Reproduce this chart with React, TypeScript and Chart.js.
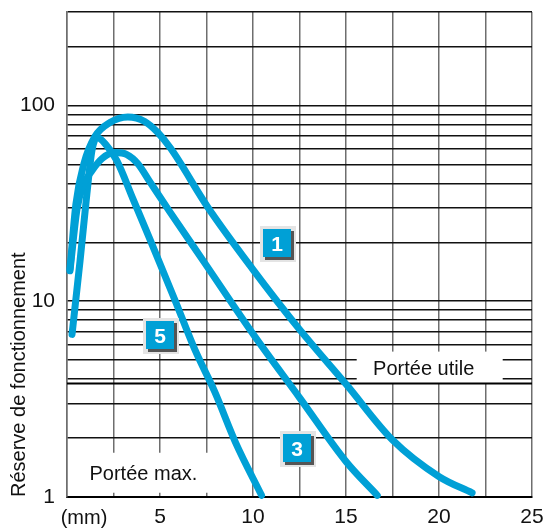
import React, { useEffect, useRef } from 'react';
import { Chart, registerables } from 'chart.js';

Chart.register(...registerables);

const xTickValues = [0, 2.5, 5, 7.5, 10, 12.5, 15, 17.5, 20, 22.5, 25];
const xTickLabels = ['', '', '5', '', '10', '', '15', '', '20', '', '25'];
const yTickValues = [1, 2, 3, 4, 5, 6, 7, 8, 9, 10, 20, 30, 40, 50, 60, 70, 80, 90, 100, 200, 300];
const yLabelledTicks = [1, 10, 100];
const xUnitLabel = '(mm)';
const yTitle = 'Réserve de fonctionnement';

const curve1X = [0.16, 0.48, 0.91, 1.5, 2.31, 3.27, 4.18, 4.88, 5.58, 7.56, 9.98, 12.5, 15.02, 17.49, 20.01, 21.78];
const curve1Y = [14.6, 31.4, 50.4, 69.3, 81.8, 87.3, 82.8, 72.7, 60.2, 30.3, 14.6, 7.18, 3.75, 1.96, 1.27, 1.05];

const curve3X = [0.16, 0.54, 0.91, 1.34, 1.88, 2.58, 3.22, 3.81, 4.45, 5.53, 7.4, 10.09, 12.5, 15.02, 16.68];
const curve3Y = [14.3, 29.6, 39.8, 46.4, 53.5, 57.4, 56.1, 50.4, 40.8, 28.6, 15.7, 6.62, 3.22, 1.51, 1.02];

const curve5X = [0.27, 0.7, 1.07, 1.34, 1.61, 2.09, 2.68, 3.54, 4.45, 5.79, 6.87, 7.94, 9.07, 10.46];
const curve5Y = [6.77, 16.0, 35.4, 58.8, 68.5, 63.1, 52.2, 33.4, 20.8, 10.2, 5.67, 3.45, 1.89, 1.02];

const utileLevel = 3.8;
const utileX = [0, 25];

const noteTexts = ['Portée utile', 'Portée max.'];
const noteX = [19.5, 4.0];
const noteY = [4.58, 1.33];

const badgeTexts = ['1', '3', '5'];
const badgeX = [11.27, 12.34, 4.99];
const badgeY = [19.8, 1.78, 6.7];

const FAMILY = '"Liberation Sans", Arial, sans-serif';
const BLUE = '#00a0d6';

const toPoints = (xs: number[], ys: number[]) => xs.map((x, i) => ({ x, y: ys[i] }));

const notesPlugin = {
  id: 'notes',
  beforeDatasetsDraw(chart: any) {
    const { ctx } = chart;
    const xs = chart.scales.x;
    const ys = chart.scales.y;
    const sizes = [[146, 32], [145, 40]];
    const textShift = [-6, 2];
    ctx.save();
    noteTexts.forEach((t, i) => {
      const cx = xs.getPixelForValue(noteX[i]);
      const cy = ys.getPixelForValue(noteY[i]);
      const [w, h] = sizes[i];
      ctx.fillStyle = '#ffffff';
      ctx.fillRect(cx - w / 2, cy - h / 2, w, h);
      ctx.fillStyle = '#111111';
      ctx.font = `20px ${FAMILY}`;
      ctx.textAlign = 'center';
      ctx.textBaseline = 'alphabetic';
      ctx.fillText(t, cx + textShift[i], cy + 7);
    });
    ctx.restore();
  },
  afterDatasetsDraw(chart: any) {
    const { ctx } = chart;
    const xs = chart.scales.x;
    const ys = chart.scales.y;
    ctx.save();
    badgeTexts.forEach((t, i) => {
      const cx = xs.getPixelForValue(badgeX[i]);
      const cy = ys.getPixelForValue(badgeY[i]);
      const w = 28;
      const h = 28;
      const l = Math.round(cx - w / 2);
      const tp = Math.round(cy - h / 2);
      ctx.fillStyle = '#e4e4e4';
      ctx.fillRect(l - 3, tp - 3, w + 8, h + 8);
      ctx.fillStyle = '#555555';
      ctx.fillRect(l + 2, tp + 2, w + 1, h + 1);
      ctx.fillStyle = BLUE;
      ctx.fillRect(l, tp, w, h);
      ctx.fillStyle = '#ffffff';
      ctx.font = `bold 21px ${FAMILY}`;
      ctx.textAlign = 'center';
      ctx.textBaseline = 'alphabetic';
      ctx.fillText(t, l + w / 2, tp + h / 2 + 8);
    });
    ctx.restore();
  },
  afterDraw(chart: any) {
    const { ctx, chartArea } = chart;
    const xs = chart.scales.x;
    ctx.save();
    ctx.fillStyle = '#111111';
    ctx.font = `20px ${FAMILY}`;
    ctx.textAlign = 'center';
    ctx.textBaseline = 'alphabetic';
    ctx.fillText(xUnitLabel, xs.getPixelForValue(0) + 17, chartArea.bottom + 27);
    ctx.restore();
  },
};

export default function App() {
  const ref = useRef<HTMLCanvasElement>(null);

  useEffect(() => {
    if (!ref.current) return;
    const curveStyle = {
      borderColor: BLUE,
      borderWidth: 7,
      cubicInterpolationMode: 'monotone' as const,
      borderCapStyle: 'round' as const,
      borderJoinStyle: 'round' as const,
      pointRadius: 0,
      clip: false as any,
      order: 1,
    };
    const chart = new Chart(ref.current, {
      type: 'line',
      data: {
        datasets: [
          { label: '1', data: toPoints(curve1X, curve1Y), ...curveStyle },
          { label: '3', data: toPoints(curve3X, curve3Y), ...curveStyle },
          { label: '5', data: toPoints(curve5X, curve5Y), ...curveStyle },
          {
            label: 'utile',
            data: utileX.map((x) => ({ x, y: utileLevel })),
            borderColor: '#000000',
            borderWidth: 2,
            pointRadius: 0,
            order: 5,
          },
        ],
      },
      options: {
        responsive: false,
        animation: false,
        layout: { padding: 0 },
        plugins: { legend: { display: false }, tooltip: { enabled: false } },
        scales: {
          x: {
            type: 'linear',
            min: 0,
            max: 25,
            afterBuildTicks: (s: any) => {
              s.ticks = xTickValues.map((v) => ({ value: v }));
            },
            afterFit: (s: any) => {
              s.height = 31;
              s.paddingLeft = 0;
              s.paddingRight = 12;
            },
            ticks: {
              callback: (v: any) => {
                const i = xTickValues.indexOf(Number(v));
                return i >= 0 ? xTickLabels[i] : '';
              },
              font: { size: 21, family: FAMILY },
              color: '#111111',
              padding: 8,
              maxRotation: 0,
              autoSkip: false,
            },
            grid: { color: '#6e6e6e', lineWidth: 1.5, drawTicks: false },
            border: { color: '#000000', width: 2 },
          },
          y: {
            type: 'logarithmic',
            min: 1,
            max: 300,
            afterBuildTicks: (s: any) => {
              s.ticks = yTickValues.map((v) => ({ value: v }));
            },
            afterFit: (s: any) => {
              s.width = 67;
              s.paddingTop = 12;
              s.paddingBottom = 0;
            },
            ticks: {
              callback: (v: any) => (yLabelledTicks.includes(Number(v)) ? String(v) : ''),
              font: { size: 21, family: FAMILY },
              color: '#111111',
              padding: 12,
              autoSkip: false,
            },
            grid: { color: '#111111', lineWidth: 1.5, drawTicks: false },
            border: { color: '#6e6e6e', width: 1.5 },
            title: {
              display: true,
              text: yTitle,
              align: 'start',
              font: { size: 20, family: FAMILY },
              color: '#111111',
              padding: { top: 7, bottom: 0 },
            },
          },
        },
      },
      plugins: [notesPlugin],
    });
    return () => chart.destroy();
  }, []);

  return (
    <div style={{ position: 'absolute', left: 0, top: 0, width: 544, height: 528 }}>
      <canvas ref={ref} width={544} height={528} style={{ display: 'block', width: 544, height: 528 }} />
    </div>
  );
}
